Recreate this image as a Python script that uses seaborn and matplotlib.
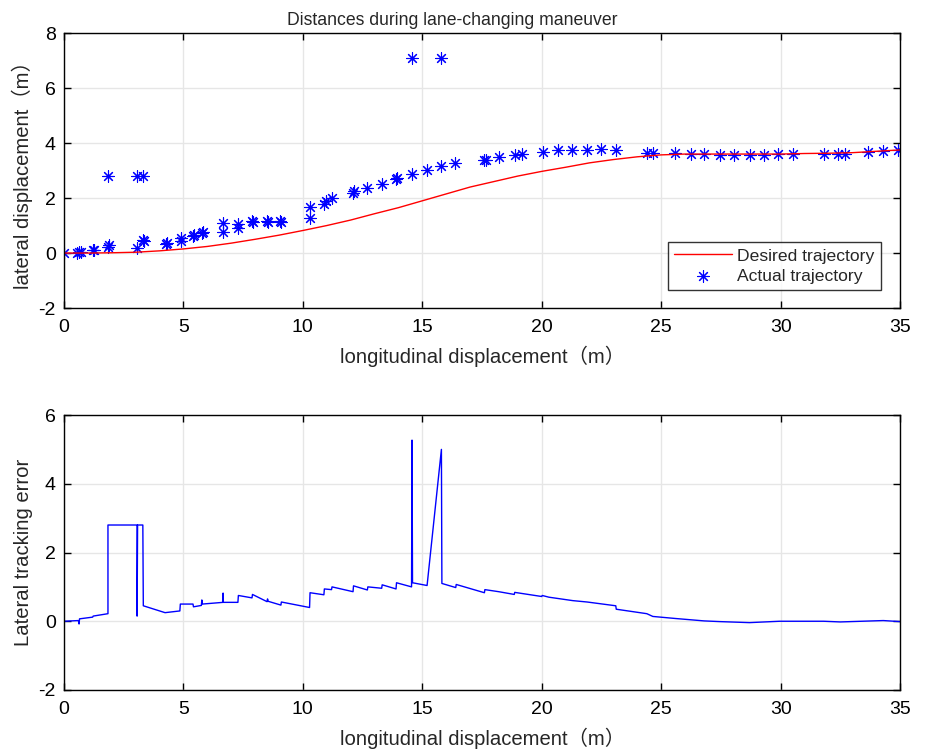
import numpy as np
import pandas as pd
import matplotlib
matplotlib.use("Agg")
import matplotlib.pyplot as plt
import seaborn as sns

# desired trajectory (red curve), sampled every 1 m
des_x = list(range(0, 36))
des_y = [0.0, 0.0, 0.01, 0.03, 0.08, 0.15, 0.24, 0.36, 0.5, 0.65,
         0.82, 1.0, 1.2, 1.43, 1.65, 1.9, 2.15, 2.4, 2.6, 2.8,
         2.97, 3.12, 3.28, 3.4, 3.5, 3.57, 3.6, 3.6, 3.6, 3.6,
         3.6, 3.62, 3.63, 3.65, 3.7, 3.75]

# actual trajectory (blue asterisks)
act_x = [0, 0.55, 0.63, 0.7, 1.2, 1.25, 1.84, 1.88, 1.84, 3.06, 3.06, 3.3, 3.3,
         3.35, 4.26, 4.3, 4.9, 4.9, 5.4, 5.45, 5.78, 5.8, 6.66, 6.66, 7.28, 7.28,
         7.87, 7.9, 8.5, 8.55, 9.05, 9.1, 10.3, 10.3, 10.88, 10.95, 11.2, 12.1,
         12.15, 12.7, 13.3, 13.9, 13.95, 14.57, 14.57, 15.2, 15.8, 15.8, 16.37,
         17.6, 17.65, 18.2, 18.9, 19.17, 20.05, 20.7, 21.26, 21.9, 22.5, 23.1,
         24.4, 24.65, 25.6, 26.25, 26.8, 27.45, 28.05, 28.7, 29.3, 29.9, 30.5,
         31.8, 32.4, 32.7, 33.65, 34.3, 34.9]
act_y = [0.0, 0.0, 0.05, 0.02, 0.1, 0.12, 0.22, 0.28, 2.82, 2.82, 0.18, 2.82, 0.47,
         0.42, 0.33, 0.36, 0.55, 0.42, 0.62, 0.66, 0.72, 0.78, 1.08, 0.78, 1.05, 0.9,
         1.17, 1.12, 1.17, 1.12, 1.15, 1.12, 1.68, 1.27, 1.8, 1.9, 2.0, 2.17,
         2.25, 2.35, 2.5, 2.68, 2.72, 2.87, 7.08, 3.02, 3.15, 7.08, 3.27,
         3.38, 3.4, 3.48, 3.56, 3.6, 3.67, 3.73, 3.76, 3.76, 3.8, 3.75,
         3.65, 3.65, 3.63, 3.61, 3.6, 3.58, 3.57, 3.56, 3.57, 3.6, 3.6,
         3.62, 3.62, 3.62, 3.67, 3.7, 3.76]

# lateral tracking error
err_x = [0, 0.6, 0.63, 0.65, 1.2, 1.22, 1.84, 1.84, 3.06, 3.06, 3.08, 3.3, 3.32,
         4.23, 4.85, 4.87, 5.4, 5.42, 5.75, 5.77, 5.79, 6.66, 6.66, 6.67, 7.28,
         7.3, 7.87, 7.89, 8.5, 8.52, 8.55, 9.08, 9.1, 10.28, 10.3, 10.88, 10.9,
         11.2, 11.22, 12.1, 12.12, 12.7, 12.72, 13.3, 13.32, 13.9, 13.92, 14.55,
         14.57, 14.59, 15.2, 15.8, 15.82, 16.4, 16.42, 17.6, 17.62, 18.2, 18.85,
         18.87, 20.0, 20.02, 20.3, 21.3, 21.9, 23.1, 23.12, 24.4, 24.65, 25.6,
         26.8, 27.45, 28.7, 29.96, 31.8, 32.5, 34.3, 35]
err_y = [0.0, 0.02, -0.08, 0.07, 0.12, 0.15, 0.22, 2.8, 2.8, 0.15, 2.8, 2.8, 0.45,
         0.25, 0.3, 0.5, 0.5, 0.42, 0.46, 0.62, 0.5, 0.55, 0.82, 0.55, 0.55,
         0.75, 0.68, 0.78, 0.57, 0.65, 0.58, 0.47, 0.56, 0.4, 0.83, 0.77, 0.94,
         0.92, 1.0, 0.86, 1.03, 0.91, 1.0, 0.96, 1.06, 0.94, 1.12, 1.0,
         5.27, 1.12, 1.04, 5.0, 1.1, 0.98, 1.07, 0.83, 0.92, 0.86, 0.78,
         0.84, 0.72, 0.75, 0.7, 0.6, 0.56, 0.45, 0.35, 0.22, 0.14, 0.08,
         0.01, -0.01, -0.04, 0.0, 0.0, -0.02, 0.02, -0.01]

sns.set_style("whitegrid")
plt.rcParams["font.family"] = ["Liberation Sans", "Noto Sans CJK SC", "DejaVu Sans"]
plt.rcParams["font.size"] = 14
plt.rcParams["axes.unicode_minus"] = False

fig = plt.figure(figsize=(9.25, 7.55), dpi=100)
ax1 = fig.add_axes([0.0692, 0.592, 0.9038, 0.3642])
ax2 = fig.add_axes([0.0692, 0.0861, 0.9038, 0.3642])

sns.lineplot(x=des_x, y=des_y, ax=ax1, color="red", linewidth=1,
             sort=False, estimator=None, label="Desired trajectory")
sns.scatterplot(x=act_x, y=act_y, ax=ax1, marker=(8, 2, 0), s=70,
                color="blue", edgecolor="blue", linewidth=0.8,
                label="Actual trajectory")
sns.lineplot(x=err_x, y=err_y, ax=ax2, color="blue", linewidth=1,
             sort=False, estimator=None)

for ax in (ax1, ax2):
    ax.set_xlim(0, 35)
    ax.set_xticks(range(0, 36, 5))
    ax.grid(True, color="#e6e6e6", linewidth=1)
    for sp in ax.spines.values():
        sp.set_visible(True)
        sp.set_color("black")
        sp.set_linewidth(1)
    ax.tick_params(direction="in", length=5, width=1, top=True, right=True,
                   bottom=True, left=True, labelsize=14, colors="black")
    ax.tick_params(axis="x", pad=8)
    ax.tick_params(axis="y", pad=6)
    ax.set_xlabel("longitudinal displacement（m）", fontsize=14.6, labelpad=7)

ax1.set_ylim(-2, 8)
ax1.set_yticks(range(-2, 9, 2))
ax1.set_ylabel("lateral displacement（m）", fontsize=14.6, labelpad=4)
ax1.set_title("Distances during lane-changing maneuver", fontsize=12.7,
              pad=6, x=0.464)

ax2.set_ylim(-2, 6)
ax2.set_yticks(range(-2, 7, 2))
ax2.set_ylabel("Lateral tracking error", fontsize=14.6, labelpad=4)

leg = ax1.legend(loc="lower right", bbox_to_anchor=(0.977, 0.065),
                 frameon=True, fancybox=False, edgecolor="black",
                 fontsize=12.6, handlelength=3.3, handletextpad=0.3,
                 borderpad=0.35, borderaxespad=0, labelspacing=0.3)
leg.get_frame().set_linewidth(1)

fig.savefig("out.png", dpi=100)
